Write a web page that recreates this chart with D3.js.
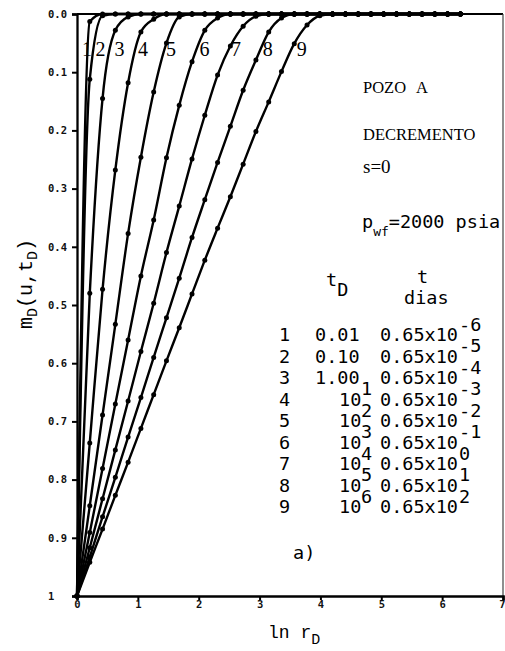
<!DOCTYPE html>
<html>
<head>
<meta charset="utf-8">
<script src="https://cdn.jsdelivr.net/npm/d3@7"></script>
<style>
  html, body { margin: 0; padding: 0; background: #fff; }
  svg { display: block; }
</style>
</head>
<body>
<svg id="chart" width="505" height="651"></svg>
<script>
// ln r_D positions of the computed points (dots)
const lnR = [0.00, 0.21, 0.42, 0.63, 0.84, 1.05, 1.26, 1.47, 1.68, 1.89,
             2.10, 2.31, 2.52, 2.73, 2.94, 3.15, 3.36, 3.57, 3.78, 3.99,
             4.20, 4.41, 4.62, 4.83, 5.04, 5.25, 5.46, 5.67, 5.88, 6.09, 6.30];

// m_D(u, t_D) for each dimensionless time, one value per lnR entry
const mD1 = [1, 0.013, 0, 0, 0, 0, 0, 0, 0, 0, 0, 0, 0, 0, 0, 0, 0, 0, 0, 0, 0, 0, 0, 0, 0, 0, 0, 0, 0, 0, 0];
const mD2 = [1, 0.112, 0.003, 0, 0, 0, 0, 0, 0, 0, 0, 0, 0, 0, 0, 0, 0, 0, 0, 0, 0, 0, 0, 0, 0, 0, 0, 0, 0, 0, 0];
const mD3 = [1, 0.480, 0.145, 0.028, 0.005, 0, 0, 0, 0, 0, 0, 0, 0, 0, 0, 0, 0, 0, 0, 0, 0, 0, 0, 0, 0, 0, 0, 0, 0, 0, 0];
const mD4 = [1, 0.737, 0.473, 0.268, 0.118, 0.031, 0.009, 0, 0, 0, 0, 0, 0, 0, 0, 0, 0, 0, 0, 0, 0, 0, 0, 0, 0, 0, 0, 0, 0, 0, 0];
const mD5 = [1, 0.845, 0.689, 0.533, 0.377, 0.246, 0.134, 0.050, 0.005, 0, 0, 0, 0, 0, 0, 0, 0, 0, 0, 0, 0, 0, 0, 0, 0, 0, 0, 0, 0, 0, 0];
const mD6 = [1, 0.891, 0.781, 0.670, 0.560, 0.450, 0.354, 0.247, 0.157, 0.082, 0.028, 0.007, 0, 0, 0, 0, 0, 0, 0, 0, 0, 0, 0, 0, 0, 0, 0, 0, 0, 0, 0];
const mD7 = [1, 0.917, 0.833, 0.749, 0.665, 0.580, 0.497, 0.410, 0.330, 0.249, 0.174, 0.105, 0.055, 0.021, 0.004, 0, 0, 0, 0, 0, 0, 0, 0, 0, 0, 0, 0, 0, 0, 0, 0];
const mD8 = [1, 0.933, 0.864, 0.796, 0.727, 0.659, 0.590, 0.522, 0.454, 0.384, 0.319, 0.255, 0.193, 0.131, 0.079, 0.031, 0.007, 0, 0, 0, 0, 0, 0, 0, 0, 0, 0, 0, 0, 0, 0];
const mD9 = [1, 0.942, 0.885, 0.827, 0.770, 0.712, 0.654, 0.596, 0.539, 0.481, 0.423, 0.368, 0.314, 0.258, 0.202, 0.151, 0.099, 0.051, 0.019, 0.003, 0, 0, 0, 0, 0, 0, 0, 0, 0, 0, 0];

const curveNames = ["1", "2", "3", "4", "5", "6", "7", "8", "9"];
const curveValues = [mD1, mD2, mD3, mD4, mD5, mD6, mD7, mD8, mD9];

// axis ticks
const xTicks = [0, 1, 2, 3, 4, 5, 6, 7];
const yTicks = [0, 0.1, 0.2, 0.3, 0.4, 0.5, 0.6, 0.7, 0.8, 0.9, 1];
const yTickLabels = ["0.0", "0.1", "0.2", "0.3", "0.4", "0.5", "0.6", "0.7", "0.8", "0.9", "1"];

// legend table: curve, t_D, t (dias)
const tableNum = ["1", "2", "3", "4", "5", "6", "7", "8", "9"];
const tDBase = ["0.01", "0.10", "1.00", "10", "10", "10", "10", "10", "10"];
const tDExp = ["", "", "", "1", "2", "3", "4", "5", "6"];
const tDiasBase = ["0.65x10", "0.65x10", "0.65x10", "0.65x10", "0.65x10", "0.65x10", "0.65x10", "0.65x10", "0.65x10"];
const tDiasExp = ["-6", "-5", "-4", "-3", "-2", "-1", "0", "1", "2"];

const svg = d3.select("#chart");
const W = 505, H = 651;
const margin = { left: 77, right: 2, top: 14, bottom: 55 };

const x = d3.scaleLinear().domain([0, 7]).range([margin.left, W - margin.right]);
const y = d3.scaleLinear().domain([0, 1]).range([margin.top, H - margin.bottom]);

const serif = "'Liberation Serif', 'DejaVu Serif', serif";
const mono = "'Liberation Mono', 'DejaVu Sans Mono', monospace";
const typeMono = "'DejaVu Sans Mono', 'Liberation Mono', monospace";

// frame: top and right sides
svg.append("line")
  .attr("x1", x(0)).attr("x2", x(7)).attr("y1", y(0)).attr("y2", y(0))
  .attr("stroke", "#000").attr("stroke-width", 1.8);
svg.append("line")
  .attr("x1", x(7)).attr("x2", x(7)).attr("y1", y(0)).attr("y2", y(1))
  .attr("stroke", "#444").attr("stroke-width", 1.2);

// y axis
const yAxis = d3.axisLeft(y)
  .tickValues(yTicks)
  .tickSize(5)
  .tickFormat((d, i) => yTickLabels[i]);
const gy = svg.append("g").attr("transform", `translate(${x(0)},0)`).call(yAxis);
gy.select(".domain").attr("stroke", "#000").attr("stroke-width", 2.3);
gy.selectAll(".tick line").attr("stroke", "#000").attr("stroke-width", 2);
gy.selectAll(".tick text")
  .attr("x", -29).attr("text-anchor", "start")
  .style("font-family", typeMono).style("font-weight", "bold").style("font-size", "10.5px")
  .attr("fill", "#111");

// x axis
const xAxis = d3.axisBottom(x)
  .tickValues(xTicks)
  .tickSize(4)
  .tickFormat(d3.format("d"));
const gx = svg.append("g").attr("transform", `translate(0,${y(1)})`).call(xAxis);
gx.select(".domain").attr("stroke", "#000").attr("stroke-width", 2.6);
gx.selectAll(".tick line").attr("stroke", "#000").attr("stroke-width", 2);
gx.selectAll(".tick text")
  .attr("y", 5)
  .style("font-family", typeMono).style("font-weight", "bold").style("font-size", "10.5px")
  .attr("fill", "#111");
// keep the last label inside the page edge
gx.selectAll(".tick text").filter(d => d === xTicks[xTicks.length - 1])
  .attr("text-anchor", "end").attr("dx", 2);

// curves
const line = d3.line()
  .x(d => x(d[0]))
  .y(d => y(d[1]))
  .curve(d3.curveMonotoneX);

const series = curveValues.map((vals, k) => ({
  name: curveNames[k],
  pts: lnR.map((r, j) => [r, vals[j]])
}));

const gc = svg.append("g");
gc.selectAll("path.curve")
  .data(series)
  .join("path")
  .attr("class", "curve")
  .attr("d", d => line(d.pts))
  .attr("fill", "none")
  .attr("stroke", "#000")
  .attr("stroke-width", 2.4)
  .attr("stroke-linejoin", "round");

gc.selectAll("g.dots")
  .data(series)
  .join("g")
  .attr("class", "dots")
  .selectAll("circle")
  .data(d => d.pts)
  .join("circle")
  .attr("cx", d => x(d[0]))
  .attr("cy", d => y(d[1]))
  .attr("r", 2.5)
  .attr("fill", "#000");

// curve numbers, set beside each curve just below the top
const labelLevel = 0.072;
const labelNudge = [-7, 1, 4, 3, 3, 5, 5, 5, 8];
function crossing(pts, level) {
  for (let j = 0; j < pts.length - 1; j++) {
    const a = pts[j], b = pts[j + 1];
    if (a[1] >= level && b[1] <= level) {
      const t = (a[1] - level) / (a[1] - b[1]);
      return x(a[0] + t * (b[0] - a[0]));
    }
  }
  return x(0);
}
svg.selectAll("text.cnum")
  .data(series)
  .join("text")
  .attr("class", "cnum")
  .attr("x", (d, i) => crossing(d.pts, labelLevel) + labelNudge[i])
  .attr("y", y(labelLevel))
  .style("font-family", serif).style("font-size", "20px")
  .text(d => d.name);

// axis titles
const yTitle = svg.append("text")
  .attr("transform", `translate(32,${284}) rotate(-90)`)
  .attr("text-anchor", "middle")
  .style("font-family", mono).style("font-size", "20px");
yTitle.append("tspan").text("m");
yTitle.append("tspan").attr("dy", 5).style("font-size", "15px").text("D");
yTitle.append("tspan").attr("dy", -5).text("(u,t");
yTitle.append("tspan").attr("dy", 5).style("font-size", "15px").text("D");
yTitle.append("tspan").attr("dy", -5).text(")");

const xTitle = svg.append("text")
  .attr("x", 268).attr("y", 638)
  .style("font-family", mono).style("font-size", "18px");
xTitle.append("tspan").text("ln r");
xTitle.append("tspan").attr("dy", 6).style("font-size", "15px").text("D");

// well description
const note = svg.append("g").style("font-family", serif).style("font-size", "16.5px");
note.append("text").attr("x", 363).attr("y", 93).text("POZO");
note.append("text").attr("x", 416).attr("y", 93).text("A");
note.append("text").attr("x", 363).attr("y", 140).text("DECREMENTO");
note.append("text").attr("x", 363).attr("y", 173).style("font-size", "19px").text("s=0");

const pwf = svg.append("text").attr("x", 362).attr("y", 228)
  .style("font-family", typeMono).style("font-size", "18.5px");
pwf.append("tspan").text("p");
pwf.append("tspan").attr("dy", 8).style("font-size", "13px").text("wf");
pwf.append("tspan").attr("dy", -8).text("=2000 psia");

// legend table
const tbl = svg.append("g").style("font-family", typeMono).style("font-size", "18.5px");
const hdr = tbl.append("text").attr("x", 326).attr("y", 286);
hdr.append("tspan").text("t");
hdr.append("tspan").attr("dy", 10).text("D");
tbl.append("text").attr("x", 417).attr("y", 283).text("t");
tbl.append("text").attr("x", 404).attr("y", 304).text("dias");

const row0 = 341, rowStep = 21.5, supRise = 10.5;
tableNum.forEach((n, i) => {
  const by = row0 + i * rowStep;
  tbl.append("text").attr("x", 279).attr("y", by).text(n);
  const tdx = tDExp[i] ? 339 : 315;
  tbl.append("text").attr("x", tdx).attr("y", by).text(tDBase[i]);
  if (tDExp[i]) {
    tbl.append("text").attr("x", 361).attr("y", by - supRise).text(tDExp[i]);
  }
  tbl.append("text").attr("x", 380).attr("y", by).text(tDiasBase[i]);
  tbl.append("text").attr("x", 459).attr("y", by - supRise).text(tDiasExp[i]);
});

svg.append("text").attr("x", 293).attr("y", 559)
  .style("font-family", typeMono).style("font-size", "18.5px").text("a)");
</script>
</body>
</html>
